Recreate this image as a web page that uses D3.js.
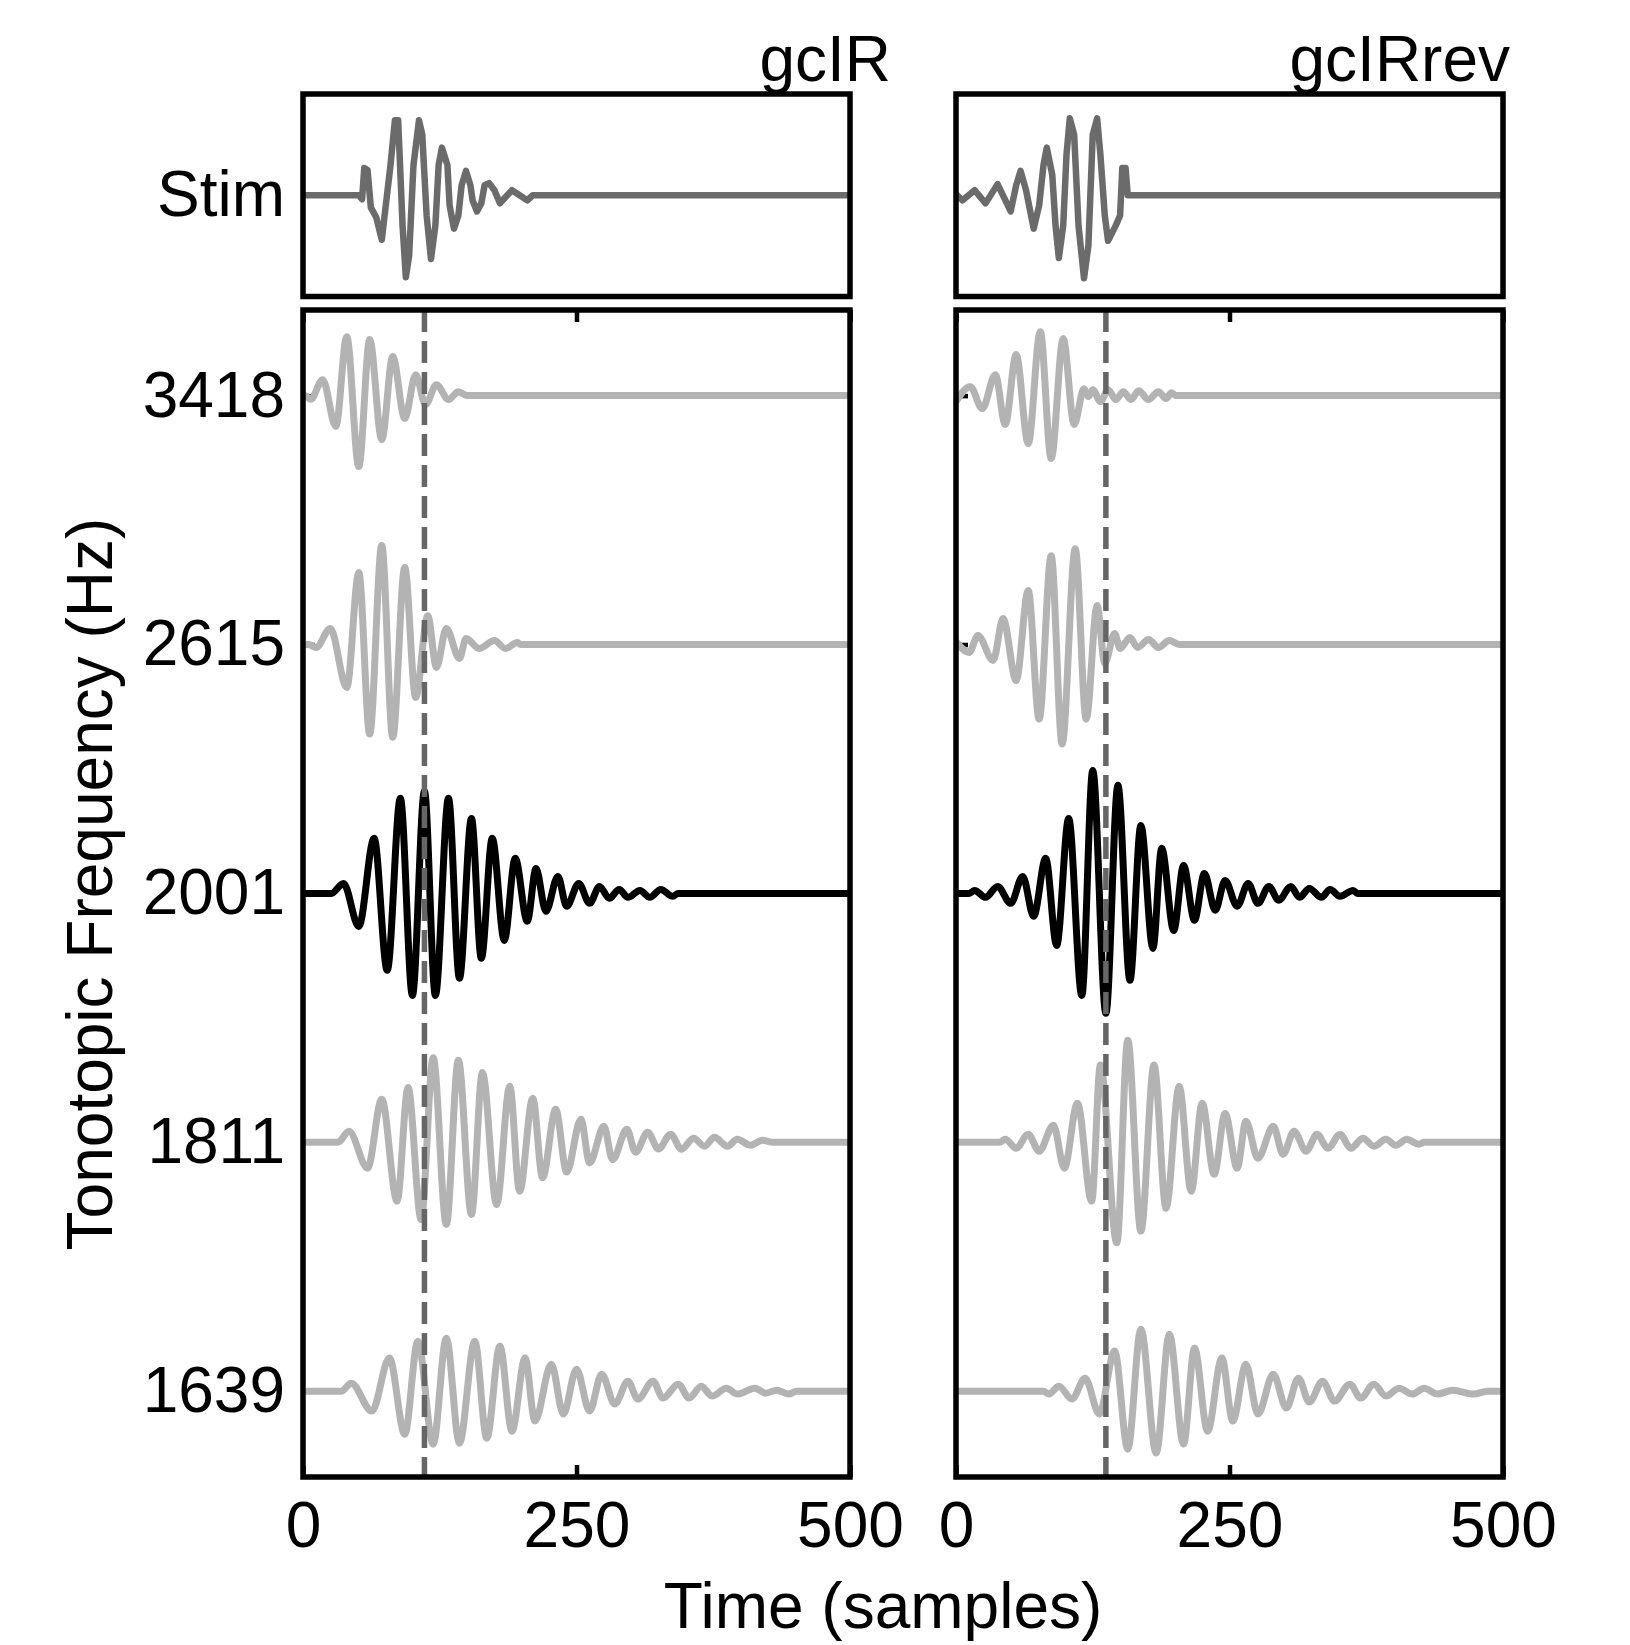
<!DOCTYPE html>
<html>
<head>
<meta charset="utf-8">
<script src="https://cdn.jsdelivr.net/npm/d3@7"></script>
<style>
  body { margin: 0; background: #fff; }
  text { font-family: "Liberation Sans", Arial, sans-serif; fill: #000; }
</style>
</head>
<body>
<script>
// tick labels and categories
var samples = [0, 250, 500];
var freqLabels = ["3418", "2615", "2001", "1811", "1639"];
var panelTitles = ["gcIR", "gcIRrev"];
var markerTimes = [111, 137]; // dashed line, samples
var activeChannel = "2001";

// stimulus waveforms: [sample, amplitude] at turning points
var stimIR = [[0,0],[51,0],[54,-0.04],[56,0.27],[59,0.25],[62,-0.12],[67,-0.22],[72,-0.44],[80,0.3],[84,0.74],[87,0.74],[91,-0.3],[94,-0.81],[97,-0.6],[101,0.3],[106,0.74],[109,0.6],[113,-0.2],[117,-0.63],[121,-0.3],[124,0.3],[127,0.47],[132,0.3],[134,-0.1],[138,-0.33],[142,-0.2],[145,0.1],[149,0.24],[153,0.1],[155,-0.05],[159,-0.16],[163,-0.08],[166,0.1],[170,0.12],[175,0.05],[180,-0.08],[185,-0.02],[191,0.05],[198,0],[205,-0.05],[210,0],[500,0]];
var stimRev = [[0,0.01],[6,-0.05],[17,0.05],[27,-0.08],[38,0.11],[50,-0.16],[55,0.1],[59,0.24],[64,0.05],[71,-0.33],[76,-0.1],[80,0.3],[83,0.47],[88,0.2],[91,-0.3],[94,-0.62],[98,-0.3],[101,0.4],[104,0.76],[108,0.6],[112,-0.3],[117,-0.82],[121,-0.5],[125,0.6],[129,0.76],[132,0.4],[136,-0.2],[139,-0.45],[146,-0.3],[150,-0.2],[152,0.27],[155,0.27],[157,0],[500,0]];

// filter outputs for gcIR
var ir3418 = [[0,0],[2,0],[7,-0.015],[18,0.064],[30,-0.124],[40,0.237],[51,-0.285],[61,0.225],[72,-0.177],[82,0.157],[93,-0.092],[103,0.084],[112,-0.036],[122,0.044],[133,-0.016],[142,0.016],[150,0],[500,0]];
var ir2615 = [[0,0],[5,0],[12,-0.012],[25,0.064],[40,-0.173],[51,0.289],[61,-0.36],[72,0.398],[82,-0.373],[93,0.309],[103,-0.213],[114,0.116],[122,-0.092],[131,0.064],[143,-0.056],[149,0.024],[161,-0.016],[175,0.016],[185,-0.016],[196,0.008],[199,0],[500,0]];
var ir2001 = [[0,0],[26,0],[37,0.04],[51,-0.133],[65,0.221],[77,-0.309],[89,0.382],[100,-0.41],[111,0.41],[121,-0.41],[133,0.382],[143,-0.341],[154,0.301],[163,-0.261],[173,0.221],[184,-0.189],[194,0.141],[205,-0.112],[213,0.1],[222,-0.072],[233,0.068],[241,-0.052],[252,0.04],[262,-0.04],[271,0.028],[280,-0.02],[289,0.016],[297,-0.016],[308,0.012],[317,-0.016],[327,0.016],[338,-0.012],[343,0],[500,0]];
var ir1811 = [[0,0],[32,0],[42,0.044],[59,-0.104],[72,0.173],[86,-0.237],[96,0.22],[108,-0.31],[119,0.34],[131,-0.33],[142,0.33],[154,-0.29],[164,0.28],[177,-0.25],[189,0.225],[198,-0.197],[210,0.177],[219,-0.143],[231,0.133],[241,-0.12],[254,0.092],[262,-0.083],[275,0.064],[283,-0.07],[296,0.052],[304,-0.04],[315,0.04],[325,-0.027],[336,0.032],[346,-0.028],[357,0.016],[367,-0.016],[376,0.02],[388,-0.016],[397,0.012],[409,-0.012],[420,0.008],[430,0],[500,0]];
var ir1639 = [[0,0],[35,0],[44,0.032],[63,-0.08],[79,0.133],[93,-0.173],[105,0.2],[119,-0.213],[131,0.213],[143,-0.209],[157,0.2],[168,-0.189],[180,0.181],[191,-0.161],[203,0.133],[212,-0.12],[227,0.108],[238,-0.092],[250,0.088],[262,-0.08],[273,0.068],[285,-0.052],[297,0.04],[306,-0.032],[320,0.04],[329,-0.028],[343,0.028],[353,-0.028],[364,0.02],[374,-0.02],[387,0.012],[397,-0.012],[413,0.012],[423,-0.008],[433,0.004],[444,-0.012],[451,0],[500,0]];

// filter outputs for gcIRrev
var rev3418 = [[0,-0.024],[13,0.036],[24,-0.052],[36,0.084],[45,-0.116],[55,0.165],[66,-0.193],[77,0.257],[87,-0.253],[98,0.229],[108,-0.116],[117,0.028],[121,-0.004],[125,0.024],[132,-0.024],[139,0.024],[146,-0.016],[153,0.016],[160,-0.016],[167,0.02],[176,-0.016],[185,0.016],[192,-0.012],[197,0.012],[201,0],[500,0]];
var rev2615 = [[0,0.012],[12,-0.032],[20,0.036],[34,-0.064],[43,0.104],[55,-0.145],[66,0.217],[76,-0.3],[87,0.357],[97,-0.4],[109,0.385],[119,-0.3],[129,0.157],[136,-0.076],[145,0.044],[150,-0.016],[159,0.028],[166,-0.012],[176,0.02],[185,-0.012],[195,0.016],[204,0],[500,0]];
var rev2001 = [[0,0],[12,0],[17,0.012],[27,-0.016],[38,0.028],[50,-0.04],[61,0.068],[71,-0.092],[82,0.141],[92,-0.209],[103,0.301],[115,-0.41],[125,0.494],[137,-0.482],[148,0.434],[159,-0.349],[169,0.273],[180,-0.221],[188,0.181],[199,-0.149],[208,0.112],[218,-0.108],[227,0.08],[237,-0.068],[246,0.052],[257,-0.052],[267,0.04],[276,-0.04],[286,0.028],[295,-0.028],[306,0.028],[314,-0.016],[323,0.02],[334,-0.016],[342,0.016],[351,-0.012],[363,0.012],[367,0],[500,0]];
var rev1811 = [[0,0],[40,0],[45,0.012],[55,-0.024],[66,0.032],[76,-0.036],[89,0.068],[99,-0.104],[111,0.157],[124,-0.237],[132,0.31],[147,-0.404],[157,0.41],[169,-0.357],[181,0.31],[192,-0.265],[204,0.225],[215,-0.197],[225,0.157],[236,-0.129],[246,0.116],[257,-0.104],[265,0.084],[276,-0.064],[290,0.064],[299,-0.048],[309,0.044],[320,-0.036],[330,0.032],[340,-0.024],[351,0.032],[361,-0.024],[372,0.016],[382,-0.016],[393,0.012],[402,-0.012],[412,0.012],[423,-0.008],[428,0],[500,0]];
var rev1639 = [[0,0],[80,0],[85,-0.012],[94,0.02],[106,-0.032],[118,0.052],[131,-0.092],[145,0.161],[157,-0.233],[169,0.249],[183,-0.249],[195,0.229],[208,-0.213],[218,0.173],[230,-0.161],[243,0.133],[253,-0.12],[265,0.108],[276,-0.092],[290,0.068],[302,-0.068],[313,0.052],[323,-0.044],[335,0.04],[346,-0.04],[360,0.028],[370,-0.028],[382,0.028],[393,-0.02],[405,0.012],[417,-0.012],[428,0.012],[440,-0.012],[454,0.004],[473,-0.012],[486,0],[500,0]];

var W = 1630, H = 1645;
var stimBox = { top: 94, bottom: 296.5 };
var mainBox = { top: 310, bottom: 1477 };

var panels = [
    { x0: 303, x1: 850, title: panelTitles[0], titleX: 891, stim: stimIR, marker: markerTimes[0],
      traces: [ir3418, ir2615, ir2001, ir1811, ir1639], yLabels: true },
    { x0: 956, x1: 1503, title: panelTitles[1], titleX: 1510, stim: stimRev, marker: markerTimes[1],
      traces: [rev3418, rev2615, rev2001, rev1811, rev1639], yLabels: false }
];

var svg = d3.select("body").append("svg")
    .attr("width", W)
    .attr("height", H);

svg.append("rect").attr("width", W).attr("height", H).attr("fill", "#fff");

// one unit = distance between two channels
var yMain = d3.scaleLinear().domain([0.656, 5.345]).range([mainBox.top, mainBox.bottom]);
var yStim = d3.scaleLinear().domain([-1, 1]).range([stimBox.bottom, stimBox.top]);

function styleAxis(a) {
    a.select(".domain").remove();
    a.selectAll(".tick line").attr("stroke", "#000").attr("stroke-width", 4.5);
    a.selectAll("text").attr("font-size", 64).attr("font-family", "Liberation Sans, Arial, sans-serif").attr("fill", "#000");
}

panels.forEach(function(p) {
    var x = d3.scaleLinear().domain([0, 500]).range([p.x0, p.x1]);
    var g = svg.append("g");

    // ticks first (inward), traces are drawn over them
    var bottomAxis = g.append("g")
        .attr("transform", `translate(0, ${mainBox.bottom})`)
        .call(d3.axisBottom(x).tickValues(samples).tickSize(-12).tickPadding(25).tickFormat(d3.format("d")));
    var topAxis = g.append("g")
        .attr("transform", `translate(0, ${mainBox.top})`)
        .call(d3.axisTop(x).tickValues(samples).tickSize(-12).tickFormat(""));
    var leftAxis = g.append("g")
        .attr("transform", `translate(${p.x0}, 0)`)
        .call(d3.axisLeft(yMain).tickValues([1, 2, 3, 4, 5]).tickSize(-12).tickPadding(18)
            .tickFormat(function(d) { return p.yLabels ? freqLabels[d - 1] : ""; }));
    var rightAxis = g.append("g")
        .attr("transform", `translate(${p.x1}, 0)`)
        .call(d3.axisRight(yMain).tickValues([1, 2, 3, 4, 5]).tickSize(-12).tickFormat(""));
    [bottomAxis, topAxis, leftAxis, rightAxis].forEach(styleAxis);

    if (p.yLabels) {
        var stimAxis = g.append("g")
            .attr("transform", `translate(${p.x0}, 0)`)
            .call(d3.axisLeft(yStim).tickValues([0]).tickSize(0).tickPadding(18)
                .tickFormat(function() { return "Stim"; }));
        styleAxis(stimAxis);
    }

    // stimulus
    var stimLine = d3.line()
        .x(function(d) { return x(d[0]); })
        .y(function(d) { return yStim(d[1]); });

    g.append("path")
        .datum(p.stim)
        .attr("d", stimLine)
        .attr("fill", "none")
        .attr("stroke", "#6b6b6b")
        .attr("stroke-width", 6.5)
        .attr("stroke-linejoin", "round");

    g.append("rect")
        .attr("x", p.x0).attr("y", stimBox.top)
        .attr("width", p.x1 - p.x0).attr("height", stimBox.bottom - stimBox.top)
        .attr("fill", "none").attr("stroke", "#000").attr("stroke-width", 5.5);

    // channel outputs
    p.traces.forEach(function(tr, i) {
        var row = i + 1;
        var line = d3.line()
            .curve(d3.curveMonotoneX)
            .x(function(d) { return x(d[0]); })
            .y(function(d) { return yMain(row - d[1]); });
        g.append("path")
            .datum(tr)
            .attr("d", line)
            .attr("fill", "none")
            .attr("stroke", freqLabels[i] === activeChannel ? "#000" : "#b3b3b3")
            .attr("stroke-width", 7)
            .attr("stroke-linejoin", "round");
    });

    // dashed marker on top of traces
    g.append("line")
        .attr("x1", x(p.marker)).attr("x2", x(p.marker))
        .attr("y1", mainBox.top).attr("y2", mainBox.bottom)
        .attr("stroke", "#666")
        .attr("stroke-width", 5.5)
        .attr("stroke-dasharray", "22,9");

    g.append("rect")
        .attr("x", p.x0).attr("y", mainBox.top)
        .attr("width", p.x1 - p.x0).attr("height", mainBox.bottom - mainBox.top)
        .attr("fill", "none").attr("stroke", "#000").attr("stroke-width", 5.5);

    g.append("text")
        .attr("x", p.titleX).attr("y", 81)
        .attr("text-anchor", "end")
        .attr("font-size", 64)
        .text(p.title);
});

// axis titles
svg.append("text")
    .attr("x", 883).attr("y", 1628)
    .attr("text-anchor", "middle")
    .attr("font-size", 64)
    .text("Time (samples)");

svg.append("text")
    .attr("transform", "translate(112, 884) rotate(-90)")
    .attr("text-anchor", "middle")
    .attr("font-size", 64)
    .text("Tonotopic Frequency (Hz)");
</script>
</body>
</html>
